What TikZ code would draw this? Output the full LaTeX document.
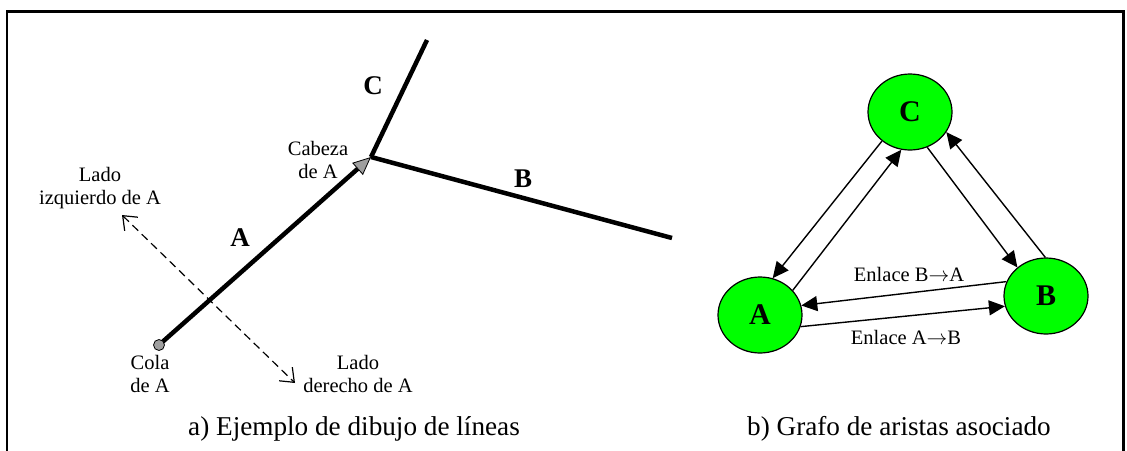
\documentclass[tikz,border=0pt]{standalone}
\usepackage{fontspec}
\setmainfont{Liberation Serif}
\usetikzlibrary{arrows.meta,shapes.geometric}
\tikzset{
  lbl/.style={align=center, inner sep=0pt, font=\fontsize{20.5}{23}\selectfont},
  captext/.style={anchor=base, inner sep=0pt, font=\fontsize{27.2}{30}\selectfont},
  boldlbl/.style={inner sep=0pt, font=\fontsize{27}{30}\selectfont\bfseries},
  thickline/.style={line width=4.5pt},
  gnode/.style={ellipse, draw=black, line width=1.2pt, fill=green, minimum width=84pt, minimum height=76pt, inner sep=0pt, font=\fontsize{30}{32}\selectfont\bfseries},
  gedge/.style={line width=1.4pt, -{Triangle[length=16pt,width=15pt]}},
  framestyle/.style={line width=2.5pt}
}
\begin{document}
\begin{tikzpicture}[x=1pt,y=-1pt]
\useasboundingbox (0,0) rectangle (1127,450);
% frame
\draw[framestyle] (7,451) -- (7,11.5) -- (1123.5,11.5) -- (1123.5,451);

% ---- left: line drawing
\coordinate (J) at (371,157);
\coordinate (Ct) at (427,40);
\coordinate (Be) at (672,238);
\coordinate (At) at (159,345);
\draw[thickline] (J) -- (Ct);
\draw[thickline] (J) -- (Be);
\draw[thickline, -{Triangle[length=18pt,width=16pt,line width=0.8pt,fill=gray!75]}] (At) -- (J);
\node[circle, draw=black, line width=0.8pt, fill=gray!75, minimum size=11pt, inner sep=0pt] (tail) at (At) {};

\node[boldlbl] (lA) at (240,238) {A};
\node[boldlbl] (lC) at (373,86) {C};
\node[boldlbl] (lB) at (523,179) {B};

\node[lbl] (cabeza) at (318,160) {Cabeza\\de A};
\node[lbl] (izq) at (100,188) {Lado\\izquierdo de A};
\node[lbl] (cola) at (150,374) {Cola\\de A};
\node[lbl] (der) at (358,374) {Lado\\derecho de A};

\coordinate (dL) at (122,215);
\coordinate (dR) at (295,383);
\draw[line width=1.2pt, dash pattern=on 8pt off 5pt,
  {Straight Barb[length=12pt,width=19pt]}-{Straight Barb[length=12pt,width=19pt]}] (dL) -- (dR);

\node[captext] (capa) at (354,435) {a) Ejemplo de dibujo de líneas};
\node[captext] (capb) at (899,435) {b) Grafo de aristas asociado};

% ---- right: graph
\node[gnode] (C) at (910,112) {C};
\node[gnode] (A) at (760,315) {A};
\node[gnode] (B) at (1046,296) {B};

\draw[gedge] (C.226) -- (A.71.6);
\draw[gedge] (A.37) -- (C.257);
\draw[gedge] (C.296.6) -- (B.135);
\draw[gedge] (B.91.5) -- (C.331);
\draw[gedge] (B.160.7) -- (A.13);
\draw[gedge] (A.344) -- (B.194.7);

\node[lbl] (eBA) at (909,274) {Enlace B$\rightarrow$A};
\node[lbl] (eAB) at (906,337) {Enlace A$\rightarrow$B};
\end{tikzpicture}
\end{document}
